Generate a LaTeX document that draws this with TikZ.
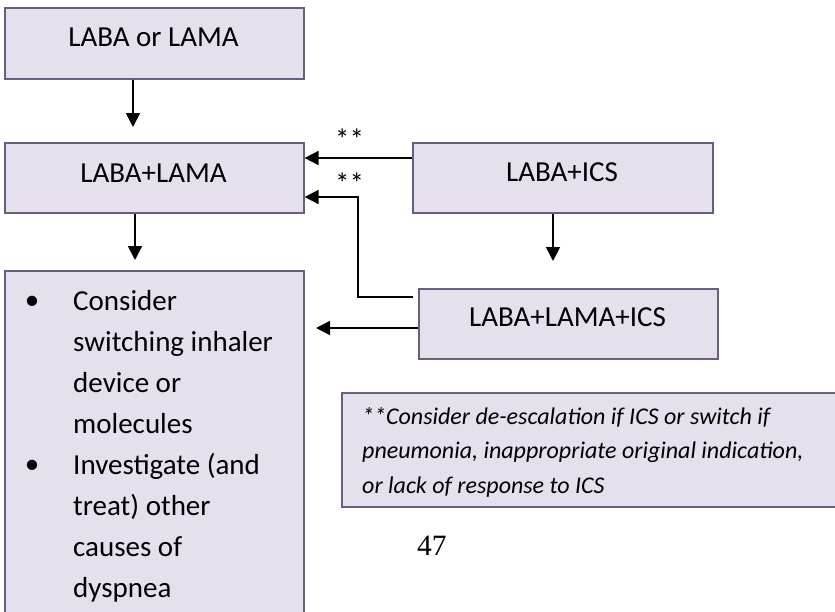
\documentclass[tikz,border=0pt]{standalone}
\usepackage{fontspec}
\setmainfont{Carlito}
\newfontfamily\pagefont{Liberation Serif}
\usetikzlibrary{arrows.meta}
\definecolor{boxfill}{HTML}{E5E0EC}
\definecolor{boxline}{HTML}{6B5D80}
\tikzset{
  boxnode/.style={draw=boxline, fill=boxfill, line width=1.6pt, rectangle, inner sep=0pt},
  maintext/.style={inner sep=0pt, anchor=base, font=\fontsize{29}{41}\selectfont},
  notetext/.style={inner sep=0pt, anchor=base west, font=\fontsize{24}{34.5}\selectfont\itshape},
  conn/.style={line width=1.8pt, -{Triangle[width=14pt,length=14pt]}},
  plainconn/.style={line width=1.8pt}
}
\begin{document}
\begin{tikzpicture}[x=1pt,y=-1pt]
\clip (0,0) rectangle (835,611);
\fill[white] (0,0) rectangle (835,611);
% boxes
\node[boxnode, minimum width=299pt, minimum height=71pt, anchor=north west] (b1) at (4,7) {};
\node[boxnode, minimum width=299pt, minimum height=70pt, anchor=north west] (b2) at (4,142) {};
\node[boxnode, minimum width=300pt, minimum height=70pt, anchor=north west] (b3) at (412,142) {};
\node[boxnode, minimum width=299pt, minimum height=70pt, anchor=north west] (b4) at (418,288) {};
\node[boxnode, minimum width=299pt, minimum height=370pt, anchor=north west] (b5) at (4,270) {};
\node[boxnode, minimum width=520pt, minimum height=114pt, anchor=north west] (b6) at (341,392) {};
% texts
\node[maintext] (t1) at (153.5,46) {LABA or LAMA};
\node[maintext] (t2) at (153.5,182) {LABA+LAMA};
\node[maintext] (t3) at (562,181) {LABA+ICS};
\node[maintext] (t4) at (567.5,326) {LABA+LAMA+ICS};
\node[maintext] (s1) at (349.5,149.5) {**};
\node[maintext] (s2) at (349.5,193) {**};
% bullet list
\node[inner sep=0pt, font=\fontsize{29}{41}\selectfont] (bu1) at (32,303) {•};
\node[inner sep=0pt, font=\fontsize{29}{41}\selectfont] (bu2) at (32,467) {•};
\node[maintext, anchor=base west] (l1) at (73,310) {Consider};
\node[maintext, anchor=base west] (l2) at (73,351) {switching inhaler};
\node[maintext, anchor=base west] (l3) at (73,392) {device or};
\node[maintext, anchor=base west] (l4) at (73,433) {molecules};
\node[maintext, anchor=base west] (l5) at (73,474) {Investigate (and};
\node[maintext, anchor=base west] (l6) at (73,515) {treat) other};
\node[maintext, anchor=base west] (l7) at (73,556) {causes of};
\node[maintext, anchor=base west] (l8) at (73,597) {dyspnea};
% note
\node[notetext] (n1) at (362,424) {**Consider de-escalation if ICS or switch if};
\node[notetext] (n2) at (362,458.5) {pneumonia, inappropriate original indication,};
\node[notetext] (n3) at (362,493) {or lack of response to ICS};
\node[inner sep=0pt, anchor=base west, font=\pagefont\fontsize{29.5}{34}\selectfont] (pg) at (417,555) {47};
% connectors
\coordinate (c1) at (133,127);
\coordinate (c2) at (135,260);
\coordinate (c3) at (553,261);
\coordinate (c4) at (316,328);
\coordinate (k1) at (413,297);
\coordinate (k2) at (358,297);
\coordinate (k3) at (358,197);
\draw[conn] (b1.south -| c1) -- (c1);
\draw[conn] (b2.south -| c2) -- (c2);
\draw[conn] (b3.south -| c3) -- (c3);
\draw[conn] (b3.west |- 0,158) -- (b2.east |- 0,158);
\draw[conn] (k1) -- (k2) -- (k3) -- (b2.east |- k3);
\draw[conn] (b4.west |- c4) -- (c4);
\end{tikzpicture}
\end{document}
